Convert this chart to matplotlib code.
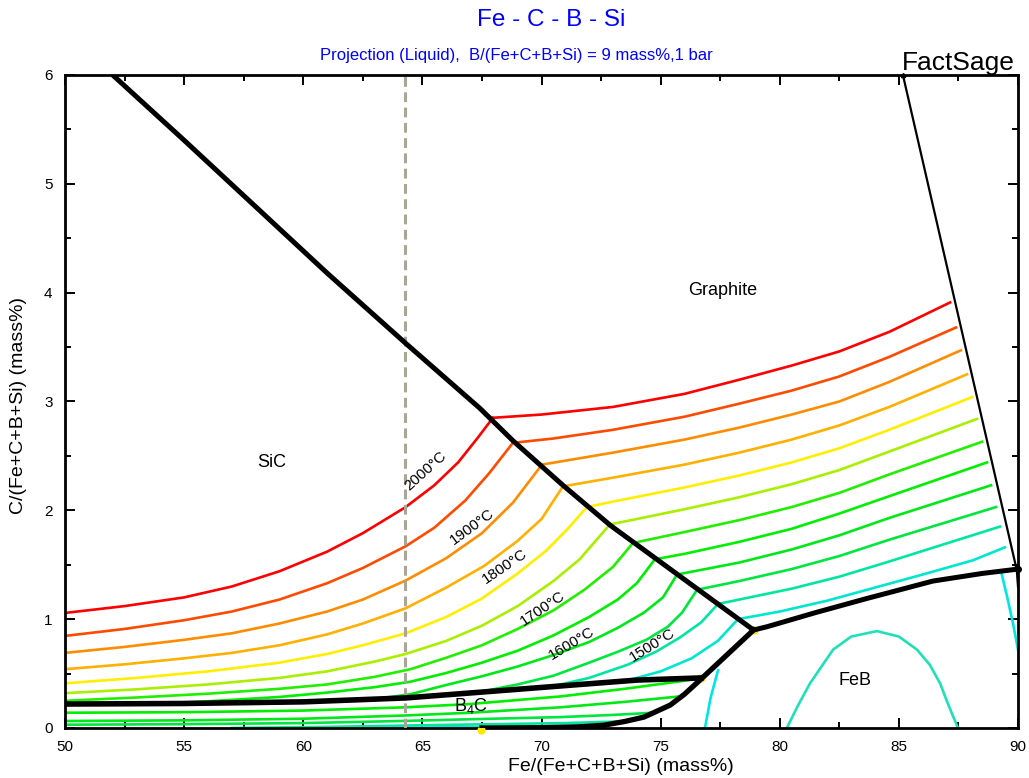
import matplotlib
matplotlib.use("Agg")
import matplotlib.pyplot as plt
from matplotlib.ticker import MultipleLocator

plt.rcParams['font.family'] = ['Liberation Sans', 'DejaVu Sans']
plt.rcParams['mathtext.fontset'] = 'custom'
plt.rcParams['mathtext.rm'] = 'Liberation Sans'

# ==== DATA (x = Fe/(Fe+C+B+Si) mass%, y = C/(Fe+C+B+Si) mass%) =========================
iso_temps = [2000, 1950, 1900, 1850, 1800, 1750, 1700, 1650, 1600, 1550, 1500, 1450]
iso_colors = {2000: '#ff0000', 1950: '#ff4a00', 1900: '#ff8c00', 1850: '#ffb000',
              1800: '#ffee00', 1750: '#aaee00', 1700: '#22ee00', 1650: '#00ee00',
              1600: '#00e818', 1550: '#00e640', 1500: '#00e6a0', 1450: '#00e6d0'}

# isotherms in the SiC primary field
sic_iso = {
    2000: ([50, 52.5, 55, 57, 59, 61, 62.5, 64.3, 65.5, 66.5, 67.3, 67.96],
           [1.057, 1.12, 1.20, 1.30, 1.44, 1.62, 1.79, 2.03, 2.23, 2.44, 2.66, 2.85]),
    1950: ([50, 52.5, 55, 57, 59, 61, 62.5, 64.3, 65.5, 66.8, 67.8, 68.8],
           [0.846, 0.91, 0.99, 1.07, 1.18, 1.33, 1.47, 1.67, 1.84, 2.09, 2.34, 2.62]),
    1900: ([50, 52.5, 55, 57, 59, 61, 62.5, 64.3, 66, 67.5, 68.8, 70.02],
           [0.69, 0.745, 0.81, 0.87, 0.96, 1.07, 1.18, 1.355, 1.56, 1.79, 2.07, 2.42]),
    1850: ([50, 52.5, 55, 57, 59, 61, 62.5, 64.3, 66, 67.6, 69.0, 70.0, 70.9],
           [0.54, 0.585, 0.64, 0.69, 0.76, 0.86, 0.96, 1.10, 1.29, 1.49, 1.72, 1.92, 2.22]),
    1800: ([50, 53, 56, 59, 61, 62.5, 64.3, 66, 67.5, 69, 70.2, 71.1, 71.91],
           [0.41, 0.46, 0.52, 0.60, 0.68, 0.76, 0.87, 1.02, 1.19, 1.42, 1.63, 1.83, 2.03]),
    1750: ([50, 53, 56, 59, 61, 63, 64.3, 66, 67.5, 69, 70.5, 71.6, 72.87],
           [0.32, 0.355, 0.40, 0.46, 0.52, 0.61, 0.68, 0.80, 0.94, 1.12, 1.35, 1.55, 1.87]),
    1700: ([50, 53, 56, 59, 61, 63, 64.5, 66, 67.5, 69, 70.5, 71.8, 73.0, 73.84],
           [0.25, 0.28, 0.315, 0.36, 0.40, 0.47, 0.54, 0.645, 0.76, 0.91, 1.08, 1.27, 1.48, 1.70]),
    1650: ([54, 56, 59, 61, 63, 64.5, 66, 67.5, 69, 70.5, 72, 73.2, 74.0, 74.76],
           [0.225, 0.245, 0.285, 0.325, 0.375, 0.425, 0.505, 0.60, 0.71, 0.85, 1.02, 1.18, 1.33, 1.55]),
    1600: ([63.0, 64.5, 66, 67.5, 69, 70.5, 72, 73.2, 74.3, 75.1, 75.69],
           [0.265, 0.31, 0.395, 0.475, 0.565, 0.67, 0.79, 0.92, 1.06, 1.20, 1.41]),
    1550: ([67.5, 69, 70.5, 72, 73.2, 74.4, 75.3, 75.9, 76.53],
           [0.335, 0.40, 0.48, 0.60, 0.70, 0.81, 0.93, 1.06, 1.27]),
    1500: ([70.5, 72.0, 73.6, 74.8, 75.8, 76.7, 77.41],
           [0.385, 0.46, 0.58, 0.70, 0.83, 0.97, 1.14]),
    1450: ([73.5, 75.0, 76.3, 77.4, 78.25],
           [0.43, 0.52, 0.64, 0.80, 1.00]),
}

# isotherms in the graphite primary field
gra_iso = {
    2000: ([67.96, 70.0, 73.0, 76.0, 78.3, 80.5, 82.5, 84.6, 87.15],
           [2.85, 2.88, 2.95, 3.07, 3.20, 3.33, 3.46, 3.64, 3.91]),
    1950: ([68.8, 70.5, 73.0, 76.0, 78.3, 80.5, 82.5, 84.6, 87.4],
           [2.62, 2.66, 2.74, 2.86, 2.98, 3.10, 3.23, 3.41, 3.68]),
    1900: ([70.02, 73.0, 76.0, 78.3, 80.5, 82.5, 84.6, 87.6],
           [2.42, 2.53, 2.65, 2.76, 2.88, 3.00, 3.18, 3.47]),
    1850: ([70.9, 73.0, 76.0, 78.3, 80.5, 82.5, 84.6, 87.86],
           [2.22, 2.30, 2.42, 2.53, 2.65, 2.78, 2.95, 3.25]),
    1800: ([71.91, 73.0, 76.0, 78.3, 80.5, 82.5, 84.6, 88.07],
           [2.03, 2.08, 2.21, 2.32, 2.44, 2.57, 2.74, 3.04]),
    1750: ([72.87, 74.0, 76.0, 78.3, 80.5, 82.5, 84.6, 88.28],
           [1.87, 1.92, 2.01, 2.12, 2.24, 2.37, 2.54, 2.84]),
    1700: ([73.84, 76.0, 78.3, 80.5, 82.5, 84.6, 88.49],
           [1.70, 1.80, 1.91, 2.03, 2.16, 2.33, 2.63]),
    1650: ([74.76, 76.0, 78.3, 80.5, 82.5, 84.6, 88.7],
           [1.55, 1.60, 1.71, 1.83, 1.97, 2.13, 2.44]),
    1600: ([75.69, 78.3, 80.5, 82.5, 84.6, 88.87],
           [1.41, 1.52, 1.64, 1.77, 1.93, 2.23]),
    1550: ([76.53, 78.3, 80.5, 82.5, 84.6, 89.08],
           [1.27, 1.35, 1.46, 1.58, 1.73, 2.03]),
    1500: ([77.41, 78.3, 80.5, 82.5, 84.6, 89.24],
           [1.14, 1.18, 1.28, 1.39, 1.53, 1.85]),
    1450: ([78.25, 80.0, 82.0, 84.0, 86.0, 88.1, 89.45],
           [1.00, 1.07, 1.17, 1.29, 1.41, 1.54, 1.66]),
}

# isotherms in the B4C primary field
b4c_iso = {
    1650: ([50, 55, 60, 64.3, 67, 70.8, 73.5, 76.2],
           [0.14, 0.145, 0.16, 0.19, 0.22, 0.29, 0.36, 0.44]),
    1600: ([50, 55, 60, 64.3, 67, 70.8, 73.5, 75.8],
           [0.064, 0.07, 0.085, 0.115, 0.14, 0.19, 0.24, 0.29]),
    1550: ([50, 55, 60, 64.3, 67, 70.8, 73.0, 74.7],
           [0.03, 0.035, 0.045, 0.065, 0.08, 0.10, 0.12, 0.14]),
    1500: ([57, 61, 65, 68, 71, 73.4],
           [0.0, 0.01, 0.025, 0.035, 0.045, 0.06]),
    1450: ([63, 67, 70, 72.3],
           [0.0, 0.008, 0.015, 0.02]),
}

# isotherms in the FeB field
feb_left_x = [76.86, 77.1, 77.41]
feb_left_y = [0.0, 0.28, 0.53]
feb_arc_x = [80.3, 80.75, 81.27, 81.8, 82.24, 83.0, 84.08, 85.0, 85.76, 86.3, 86.73, 87.1, 87.48]
feb_arc_y = [0.0, 0.2, 0.41, 0.58, 0.72, 0.84, 0.89, 0.84, 0.72, 0.58, 0.41, 0.2, 0.0]
right_cyan_x = [89.3, 89.55, 89.8, 90.0]
right_cyan_y = [1.43, 1.2, 0.95, 0.72]

# field boundaries
sic_gra_x = [52.0, 55.0, 58.0, 61.0, 64.27, 67.4, 68.8, 70.9, 72.9, 78.9]
sic_gra_y = [6.0, 5.40, 4.79, 4.18, 3.54, 2.94, 2.64, 2.23, 1.86, 0.90]
gra_feb_x = [78.9, 79.46, 81.5, 83.66, 86.43, 88.5, 90.0]
gra_feb_y = [0.90, 0.93, 1.06, 1.19, 1.35, 1.42, 1.46]
gra_right_x = [85.17, 89.95, 90.0]
gra_right_y = [6.0, 1.45, 1.30]
sic_b4c_x = [50, 55, 60, 64.3, 67.5, 70.8, 74.0, 76.7]
sic_b4c_y = [0.22, 0.225, 0.24, 0.276, 0.33, 0.386, 0.44, 0.46]
b4c_feb_x = [67.5, 70.0, 71.5, 72.6, 73.5, 74.3, 75.4, 76.0, 76.65, 78.9]
b4c_feb_y = [0.0, 0.003, 0.01, 0.025, 0.06, 0.10, 0.21, 0.31, 0.44, 0.90]

# invariant points
inv_x = [67.45, 76.7, 78.9]
inv_y = [-0.02, 0.46, 0.90]

iso_labels = ['2000°C', '1900°C', '1800°C', '1700°C', '1600°C', '1500°C']
iso_label_x = [65.15, 67.08, 68.47, 70.06, 71.28, 74.64]
iso_label_y = [2.36, 1.85, 1.48, 1.10, 0.78, 0.76]
iso_label_rot = [42, 36, 34, 34, 31, 32]

x_dash = 64.27

# ==== PLOT =============================================================================
fig = plt.figure(figsize=(10.29, 7.78), dpi=100)
ax = fig.add_axes([0.0632, 0.0643, 0.9261, 0.8393])

for T in iso_temps:
    for field in (sic_iso, gra_iso, b4c_iso):
        if T in field:
            ax.plot(*field[T], color=iso_colors[T], lw=1.9, zorder=2,
                    solid_joinstyle='round')

ax.plot(feb_left_x, feb_left_y, color='#00e6e6', lw=1.9, zorder=2)
ax.plot(feb_arc_x, feb_arc_y, color='#20e0b8', lw=1.9, zorder=2)
ax.plot(right_cyan_x, right_cyan_y, color='#00e6e6', lw=1.9, zorder=2)

# dashed composition line
ax.axvline(x_dash, color='#aaa597', lw=2.2, ls=(0, (3.2, 1.8)), zorder=3)

# invariant points (under the boundaries)
ax.plot(inv_x, inv_y, 'o', color='#ffe800', ms=6, mec='none', zorder=3, clip_on=False)

# boundaries
ax.plot(sic_gra_x, sic_gra_y, color='k', lw=3.6, zorder=4, solid_capstyle='butt')
ax.plot(gra_feb_x, gra_feb_y, color='k', lw=3.6, zorder=4)
ax.plot(sic_b4c_x, sic_b4c_y, color='k', lw=4.0, zorder=4)
ax.plot(b4c_feb_x, b4c_feb_y, color='k', lw=3.8, zorder=4)
ax.plot(gra_right_x, gra_right_y, color='k', lw=1.6, zorder=4)
ax.plot([gra_right_x[0]], [gra_right_y[0]], 'k^', ms=3, zorder=4, clip_on=False)
ax.plot([gra_feb_x[-1]], [gra_feb_y[-1]], 'ko', ms=4, zorder=5, clip_on=False)

# isotherm labels
for lab, lx, ly, rot in zip(iso_labels, iso_label_x, iso_label_y, iso_label_rot):
    ax.text(lx, ly, lab, fontsize=11, rotation=rot, ha='center', va='center',
            rotation_mode='anchor', zorder=6)

# field labels
ax.text(58.69, 2.44, 'SiC', fontsize=13, ha='center', va='center')
ax.text(77.62, 4.02, 'Graphite', fontsize=13, ha='center', va='center')
ax.text(83.16, 0.44, 'FeB', fontsize=13, ha='center', va='center')
ax.text(67.04, 0.20, r'B$_{\mathregular{4}}$C', fontsize=13, ha='center', va='center', zorder=6)

# axes
ax.set_xlim(50, 90)
ax.set_ylim(0, 6)
ax.xaxis.set_major_locator(MultipleLocator(5))
ax.xaxis.set_minor_locator(MultipleLocator(2.5))
ax.yaxis.set_major_locator(MultipleLocator(1))
ax.yaxis.set_minor_locator(MultipleLocator(0.5))
ax.tick_params(which='both', direction='in', top=True, right=True, width=1.4, labelsize=11)
ax.tick_params(which='major', length=7, pad=9)
ax.tick_params(which='minor', length=4)
for sp in ax.spines.values():
    sp.set_linewidth(2.0)

# text
fig.text(0.5355, 0.974, 'Fe - C - B - Si', color='#0000ff', fontsize=17.5, ha='center', va='center')
fig.text(0.502, 0.929, 'Projection (Liquid),  B/(Fe+C+B+Si) = 9 mass%,1 bar', color='#0000ff',
         fontsize=12, ha='center', va='center')
fig.text(0.9864, 0.919, 'FactSage', fontsize=19, ha='right', va='center')
fig.text(0.603, 0.0145, 'Fe/(Fe+C+B+Si) (mass%)', fontsize=14, ha='center', va='center')
fig.text(0.0175, 0.479, 'C/(Fe+C+B+Si) (mass%)', fontsize=14, ha='center', va='center', rotation=90)

fig.savefig('out.png', dpi=100)
